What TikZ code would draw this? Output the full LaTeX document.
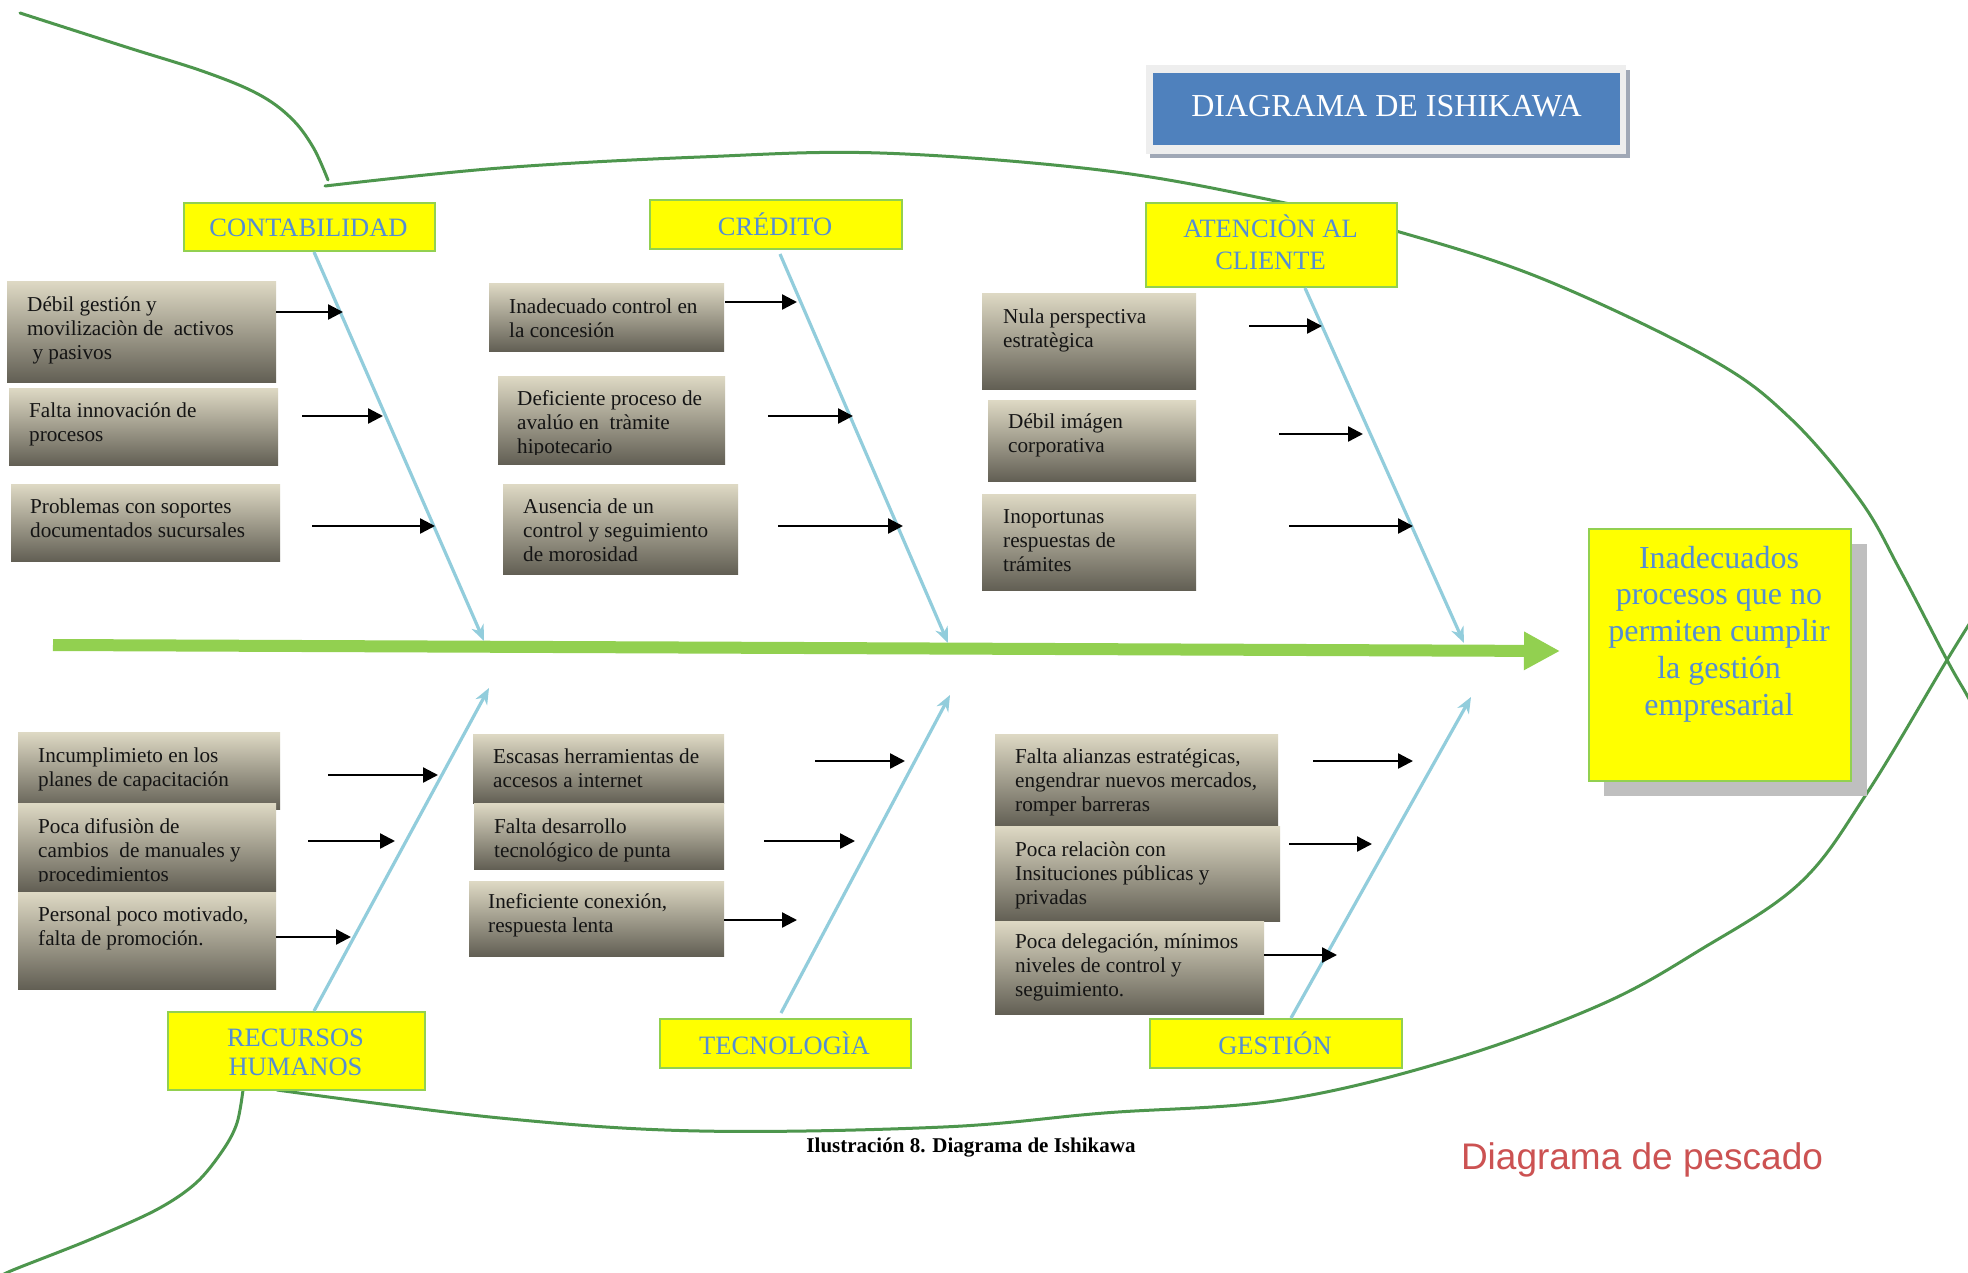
\documentclass[tikz,border=0pt]{standalone}
\usepackage{fontspec}
\setmainfont{Liberation Serif}
\newfontfamily\pescfont{Liberation Sans}
\usetikzlibrary{arrows.meta,calc}

\definecolor{fishgreen}{RGB}{77,150,77}
\definecolor{spinegreen}{RGB}{146,208,80}
\definecolor{bonecol}{RGB}{146,205,220}
\definecolor{catfill}{RGB}{255,255,0}
\definecolor{catedge}{RGB}{146,208,80}
\definecolor{cattext}{RGB}{84,141,212}
\definecolor{boxtop}{RGB}{222,217,196}
\definecolor{boxmid}{RGB}{162,158,142}
\definecolor{boxbot}{RGB}{98,95,84}
\definecolor{titleblue}{RGB}{79,129,189}
\definecolor{titleframe}{RGB}{238,238,238}
\definecolor{titleshadow}{RGB}{160,168,182}
\definecolor{effshadow}{RGB}{191,191,191}
\definecolor{pescred}{RGB}{204,82,82}
\definecolor{causeink}{RGB}{20,20,20}

\begin{document}
\begin{tikzpicture}[x=1pt,y=-1pt,
  fish/.style={draw=fishgreen, line width=3pt, line cap=round},
  spinearrow/.style={draw=spinegreen, line width=12pt, -{Triangle[length=36pt,width=36pt]}},
  bone/.style={draw=bonecol, line width=3.2pt, -{Stealth[length=16pt,width=13pt,inset=5pt]}},
  cause/.style={draw=black, line width=2.4pt, -{Triangle[length=15pt,width=15pt]}},
  catbox/.style={draw=catedge, line width=2pt, fill=catfill, inner sep=0, anchor=north west},
  catlabel/.style={text=cattext, font=\fontsize{26.5}{32}\selectfont, align=center, anchor=base, inner sep=0},
  causebox/.style={inner sep=0, anchor=north west, draw=none, top color=boxtop, middle color=boxmid, bottom color=boxbot},
  % multi-line labels are anchored at the baseline of their last line
  causetext/.style={text=causeink, font=\fontsize{21.2}{24.4}\selectfont, align=left, anchor=base west, inner sep=0}
]
\useasboundingbox (0,0) rectangle (1968,1272);
\fill[white] (0,0) rectangle (1968,1272);

% ---------- fish outline ----------
\draw[fish] plot[smooth, tension=0.6] coordinates {(20,13) (126,47) (205,72) (258,94) (291,118) (313,147) (328,180)};
\draw[fish] plot[smooth, tension=0.6] coordinates {(325,186) (500,168) (700,157) (880,153) (1100,170) (1266,199) (1396,231) (1543,279) (1709,358) (1790,418) (1860,500) (1900,570) (1947,660) (1968,697) (1985,730)};
\draw[fish] plot[smooth, tension=0.6] coordinates {(277,1090) (500,1118) (700,1131) (943,1127) (1104,1113) (1282,1100) (1450,1060) (1600,1005) (1700,950) (1800,883) (1867,793) (1947,660) (1975,615)};
\draw[fish] plot[smooth, tension=0.55] coordinates {(243,1090) (237,1123) (223,1150) (196,1183) (156,1210) (89,1240) (13,1270) (0,1277)};

% ---------- spine ----------
\coordinate (spineL) at (53,645);
\coordinate (spineR) at (1560,651);
\draw[spinearrow] (spineL) -- (spineR);

% ---------- category boxes ----------
\node[catbox, minimum width=251pt, minimum height=48pt] (catC) at (183,202) {};
\node[catbox, minimum width=252pt, minimum height=49pt] (catR) at (649,199) {};
\node[catbox, minimum width=251pt, minimum height=84pt] (catA) at (1145,202) {};
\node[catbox, minimum width=257pt, minimum height=78pt] (catH) at (167,1011) {};
\node[catbox, minimum width=251pt, minimum height=49pt] (catT) at (659,1018) {};
\node[catbox, minimum width=252pt, minimum height=49pt] (catG) at (1149,1018) {};

% ---------- main bones ----------
\coordinate (tipC) at (484,641);
\coordinate (tipR) at (948,643);
\coordinate (tipA) at (1464,643);
\coordinate (tipH) at (489,688);
\coordinate (tipT) at (950,695);
\coordinate (tipG) at (1471,697);
\draw[bone] ($(catC.south)+(4.5,0)$) -- (tipC);
\draw[bone] ($(catR.south)+(4,4)$) -- (tipR);
\draw[bone] ($(catA.south)+(33.5,0)$) -- (tipA);
\draw[bone] ($(catH.north)+(17.5,0)$) -- (tipH);
\draw[bone] ($(catT.north)+(-4.5,-5)$) -- (tipT);
\draw[bone] ($(catG.north)+(15,0)$) -- (tipG);

% ---------- category labels ----------
\node[catlabel] (catCt) at (308.5,236.5) {CONTABILIDAD};
\node[catlabel] (catRt) at (775,235) {CRÉDITO};
\node[catlabel] (catAt) at (1270.5,269.3) {ATENCIÒN AL\\CLIENTE};
\node[catlabel, font=\fontsize{26.5}{29}\selectfont] (catHt) at (295.5,1075.7) {RECURSOS\\HUMANOS};
\node[catlabel] (catTt) at (784.5,1054) {TECNOLOGÌA};
\node[catlabel] (catGt) at (1275,1054) {GESTIÓN};

% ---------- cause boxes ----------
% contabilidad
\node[causebox, minimum width=269pt, minimum height=101pt] (bC1) at (7,281) {};
\node[causebox, minimum width=269pt, minimum height=77pt] (bC2) at (9,388) {};
\node[causebox, minimum width=269pt, minimum height=77pt] (bC3) at (11,484) {};
% credito
\node[causebox, minimum width=235pt, minimum height=68pt] (bR1) at (489,283) {};
\node[causebox, minimum width=227pt, minimum height=88pt] (bR2) at (498,376) {};
\node[causebox, minimum width=235pt, minimum height=90pt] (bR3) at (503,484) {};
% atencion al cliente
\node[causebox, minimum width=214pt, minimum height=96pt] (bA1) at (982,293) {};
\node[causebox, minimum width=208pt, minimum height=81pt] (bA2) at (988,400) {};
\node[causebox, minimum width=214pt, minimum height=96pt] (bA3) at (982,494) {};
% recursos humanos
\node[causebox, minimum width=262pt, minimum height=77pt] (bH1) at (18,732) {};
\node[causebox, minimum width=258pt, minimum height=88pt] (bH2) at (18,803) {};
\node[causebox, minimum width=258pt, minimum height=97pt] (bH3) at (18,892) {};
% tecnologia
\node[causebox, minimum width=251pt, minimum height=69pt] (bT1) at (473,734) {};
\node[causebox, minimum width=250pt, minimum height=66pt] (bT2) at (474,803) {};
\node[causebox, minimum width=255pt, minimum height=75pt] (bT3) at (469,881) {};
% gestion
\node[causebox, minimum width=283pt, minimum height=92pt] (bG1) at (995,734) {};
\node[causebox, minimum width=285pt, minimum height=95pt] (bG2) at (995,826) {};
\node[causebox, minimum width=269pt, minimum height=93pt] (bG3) at (995,921) {};

% ---------- cause texts ----------
\node[causetext] (tC1) at (27,359.8) {Débil gestión y\\movilizaciòn de\ \ activos\\\ y pasivos};
\node[causetext] (tC2) at (29,441.4) {Falta innovación de\\procesos};
\node[causetext] (tC3) at (30,537.4) {Problemas con soportes\\documentados sucursales};
\node[causetext] (tR1) at (509,337.4) {Inadecuado control en\\la concesión};
\begin{scope}
  \clip (498,376) rectangle (725,454);
  \node[causetext] (tR2) at (517,453.8) {Deficiente proceso de\\avalúo en\ \ tràmite\\hipotecario};
\end{scope}
\node[causetext] (tR3) at (523,561.8) {Ausencia de un\\control y seguimiento\\de morosidad};
\node[causetext] (tA1) at (1003,347.4) {Nula perspectiva\\estratègica};
\node[causetext] (tA2) at (1008,452.4) {Débil imágen\\corporativa};
\node[causetext] (tA3) at (1003,571.8) {Inoportunas\\respuestas de\\trámites};
\node[causetext] (tH1) at (38,786.4) {Incumplimieto en los\\planes de capacitación};
\begin{scope}
  \clip (18,803) rectangle (276,881);
  \node[causetext] (tH2) at (38,881.8) {Poca difusiòn de\\cambios\ \ de manuales y\\procedimientos};
\end{scope}
\node[causetext] (tH3) at (38,945.4) {Personal poco motivado,\\falta de promoción.};
\node[causetext] (tT1) at (493,787.4) {Escasas herramientas de\\accesos a internet};
\node[causetext] (tT2) at (494,857.4) {Falta desarrollo\\tecnológico de punta};
\node[causetext] (tT3) at (488,932.4) {Ineficiente conexión,\\respuesta lenta};
\node[causetext] (tG1) at (1015,811.8) {Falta alianzas estratégicas,\\engendrar nuevos mercados,\\romper barreras};
\node[causetext] (tG2) at (1015,904.8) {Poca relaciòn con\\Insituciones públicas y\\privadas};
\node[causetext] (tG3) at (1015,996.8) {Poca delegación, mínimos\\niveles de control y\\seguimiento.};

% ---------- cause arrows ----------
\coordinate (aC1) at (343,312);  \draw[cause] ($(bC1.east |- aC1)+(0,0)$) -- (aC1);
\coordinate (aC2) at (383,416);  \draw[cause] ($(bC2.east |- aC2)+(24,0)$) -- (aC2);
\coordinate (aC3) at (435,526);  \draw[cause] ($(bC3.east |- aC3)+(32,0)$) -- (aC3);
\coordinate (aR1) at (797,302);  \draw[cause] ($(bR1.east |- aR1)+(1,0)$) -- (aR1);
\coordinate (aR2) at (853,416);  \draw[cause] ($(bR2.east |- aR2)+(43,0)$) -- (aR2);
\coordinate (aR3) at (903,526);  \draw[cause] ($(bR3.east |- aR3)+(40,0)$) -- (aR3);
\coordinate (aA1) at (1322,326); \draw[cause] ($(bA1.east |- aA1)+(53,0)$) -- (aA1);
\coordinate (aA2) at (1363,434); \draw[cause] ($(bA2.east |- aA2)+(83,0)$) -- (aA2);
\coordinate (aA3) at (1413,526); \draw[cause] ($(bA3.east |- aA3)+(93,0)$) -- (aA3);
\coordinate (aH1) at (438,775);  \draw[cause] ($(bH1.east |- aH1)+(48,0)$) -- (aH1);
\coordinate (aH2) at (395,841);  \draw[cause] ($(bH2.east |- aH2)+(32,0)$) -- (aH2);
\coordinate (aH3) at (351,937);  \draw[cause] ($(bH3.east |- aH3)+(0,0)$) -- (aH3);
\coordinate (aT1) at (905,761);  \draw[cause] ($(bT1.east |- aT1)+(91,0)$) -- (aT1);
\coordinate (aT2) at (855,841);  \draw[cause] ($(bT2.east |- aT2)+(40,0)$) -- (aT2);
\coordinate (aT3) at (797,920);  \draw[cause] ($(bT3.east |- aT3)+(0,0)$) -- (aT3);
\coordinate (aG1) at (1413,761); \draw[cause] ($(bG1.east |- aG1)+(35,0)$) -- (aG1);
\coordinate (aG2) at (1372,844); \draw[cause] ($(bG2.east |- aG2)+(9,0)$) -- (aG2);
\coordinate (aG3) at (1337,955); \draw[cause] ($(bG3.east |- aG3)+(0,0)$) -- (aG3);

% ---------- effect box ----------
\fill[effshadow] (1604,544) rectangle (1867,796);
\node[catbox, minimum width=262pt, minimum height=252pt] (effect) at (1588,528) {};
\node[text=cattext, font=\fontsize{32}{36.75}\selectfont, align=center, anchor=base, inner sep=0] (effectt) at (1719,715)
  {Inadecuados\\procesos que no\\permiten cumplir\\la gestión\\empresarial};

% ---------- title ----------
\fill[titleshadow] (1150,70) rectangle (1630,158);
\fill[titleframe] (1146,65) rectangle (1626,154);
\node[fill=titleblue, inner sep=0, anchor=north west, minimum width=467pt, minimum height=72pt] (title) at (1153,73) {};
\node[text=white, font=\fontsize{32}{38}\selectfont, anchor=base, inner sep=0] (titlet) at (1386.5,116) {DIAGRAMA DE ISHIKAWA};

% ---------- captions ----------
\node[font=\bfseries\fontsize{21}{24}\selectfont, anchor=base, inner sep=0] (caption) at (971,1152) {Ilustración 8. Diagrama de Ishikawa};
\node[text=pescred, font=\pescfont\fontsize{37}{44}\selectfont, anchor=base, inner sep=0] (pescado) at (1642,1169) {Diagrama de pescado};
\end{tikzpicture}
\end{document}
